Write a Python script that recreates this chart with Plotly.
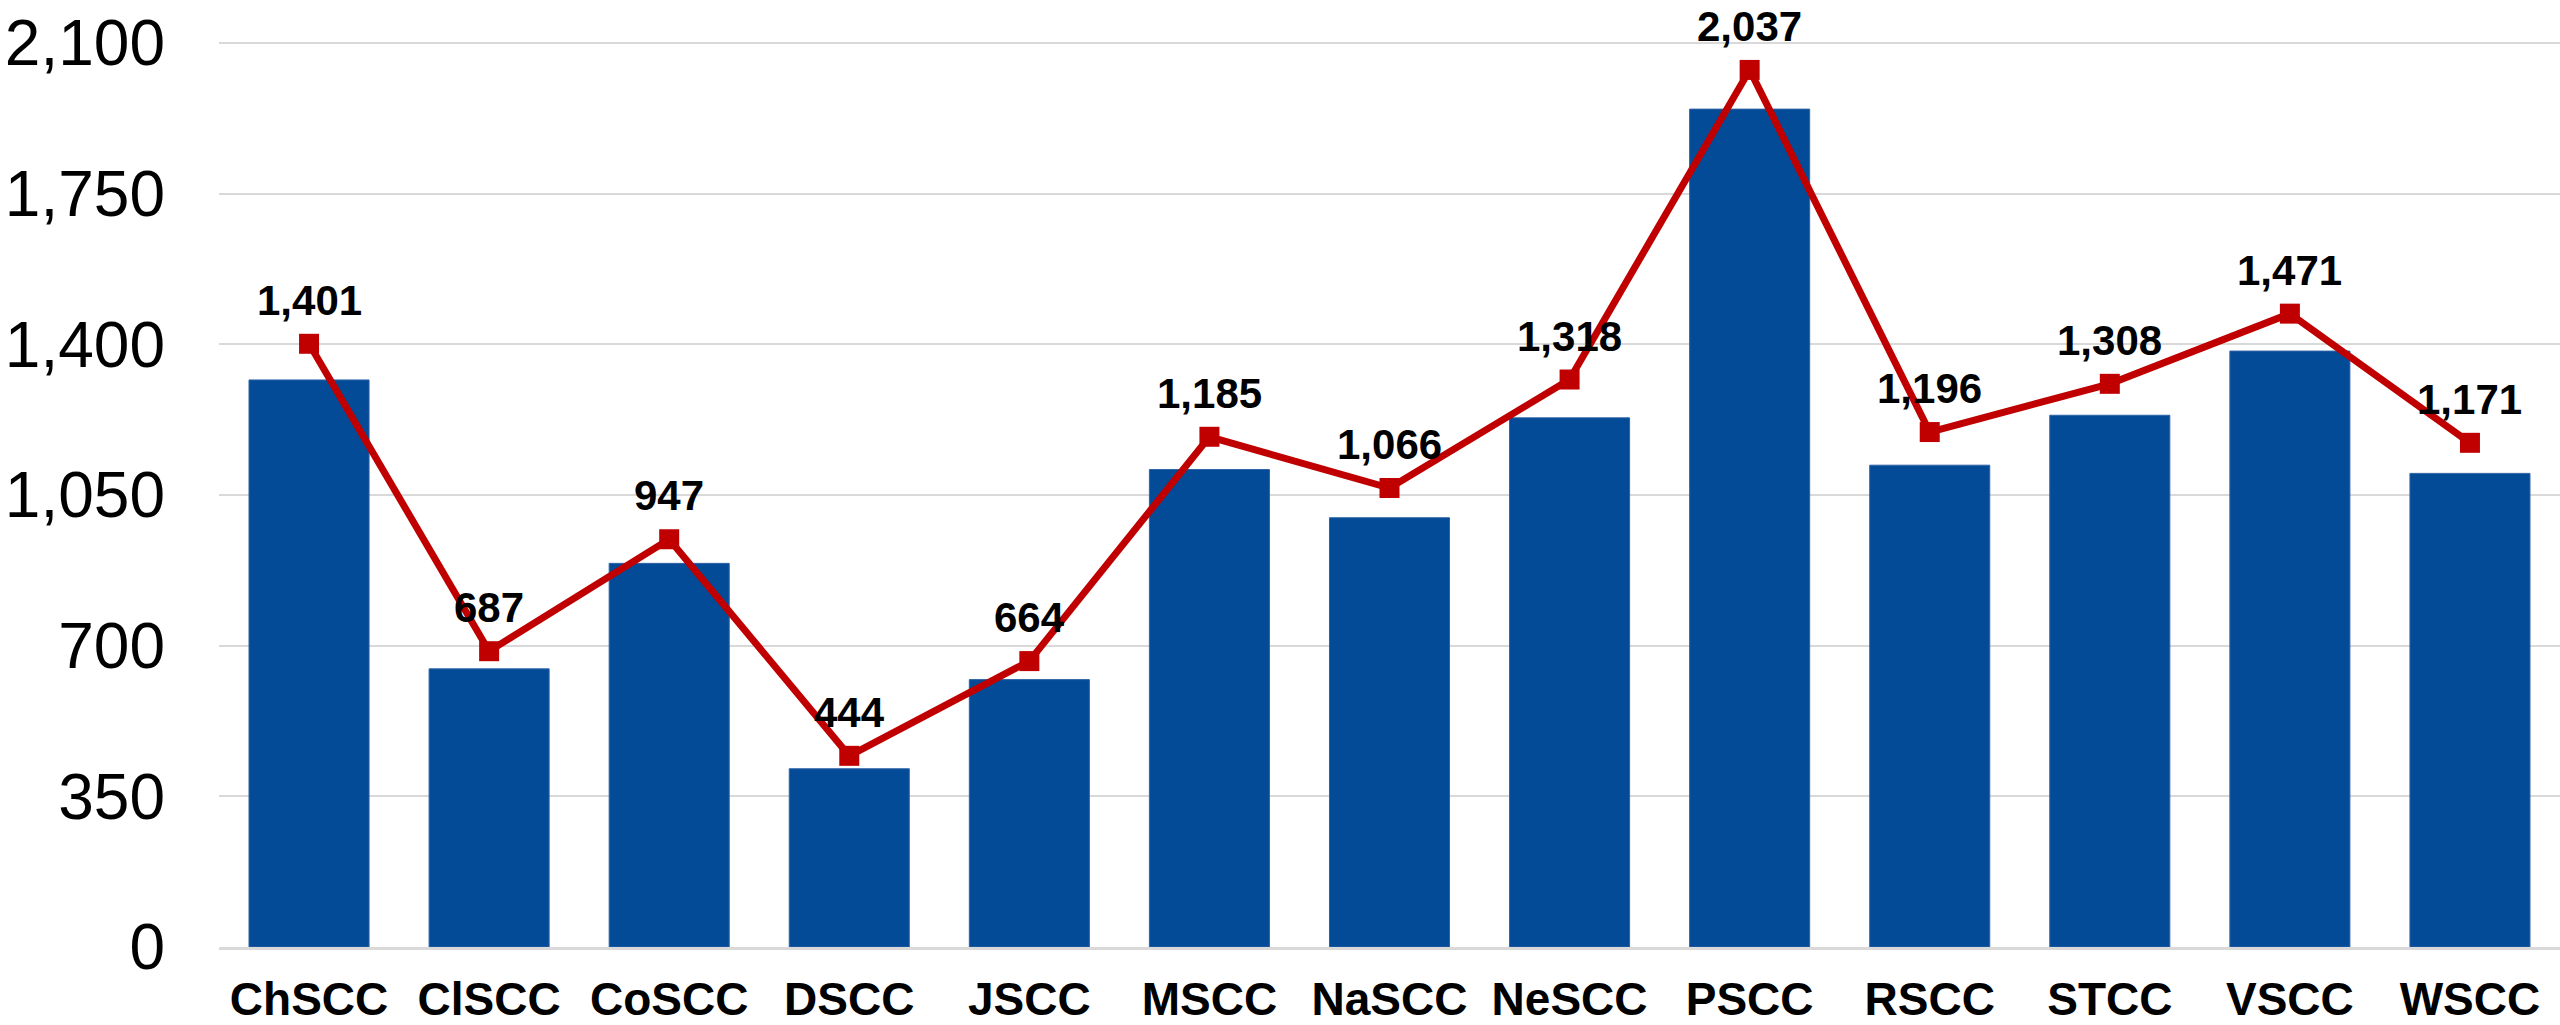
import plotly.graph_objects as go

categories = ["ChSCC", "ClSCC", "CoSCC", "DSCC", "JSCC", "MSCC", "NaSCC",
              "NeSCC", "PSCC", "RSCC", "STCC", "VSCC", "WSCC"]
bar_values = [1317, 646, 891, 414, 621, 1109, 997, 1229, 1946, 1119, 1235, 1384, 1100]
line_values = [1401, 687, 947, 444, 664, 1185, 1066, 1318, 2037, 1196, 1308, 1471, 1171]
y_ticks = [0, 350, 700, 1050, 1400, 1750, 2100]

BAR_COLOR = "#034B97"
LINE_COLOR = "#C00000"
GRID = "#D9D9D9"
FONT = "Liberation Sans, Arial, sans-serif"

fig = go.Figure()
fig.add_trace(go.Bar(
    x=categories, y=bar_values,
    marker=dict(color=BAR_COLOR, line=dict(color="#2f63a6", width=1)),
    showlegend=False,
))
fig.add_trace(go.Scatter(
    x=categories, y=line_values, mode="lines+markers",
    line=dict(color=LINE_COLOR, width=7),
    marker=dict(symbol="square", size=20, color=LINE_COLOR),
    showlegend=False, cliponaxis=False,
))

for c, v in zip(categories, line_values):
    fig.add_annotation(
        x=c, y=v, text=f"{v:,}", showarrow=False,
        yanchor="bottom", xanchor="center", yshift=18,
        font=dict(family=FONT, size=42, color="#000000", weight="bold"),
    )

fig.update_layout(
    width=2560, height=1025, autosize=False,
    margin=dict(l=219, r=0, t=41, b=78, pad=0),
    plot_bgcolor="white", paper_bgcolor="white",
    bargap=1/3,
    font=dict(family=FONT, color="#000000"),
)
fig.update_xaxes(
    type="category", automargin=False,
    range=[-0.5, len(categories) - 0.5],
    tickfont=dict(family=FONT, size=46, color="#000000", weight="bold"),
    showgrid=False, ticks="", showline=True, linecolor=GRID, linewidth=3,
    ticklabelstandoff=10,
)
fig.update_yaxes(
    range=[0, max(y_ticks) * 1.002], tickvals=y_ticks, tickformat=",",
    automargin=False, ticklabeloverflow="allow",
    tickfont=dict(family=FONT, size=64, color="#000000"),
    showgrid=True, gridcolor=GRID, gridwidth=2,
    zeroline=False, showline=False, ticks="",
    ticklabelstandoff=53,
)

fig.write_html("out.html", config={"displayModeBar": False},
               post_script="document.body.style.margin='0px';")
